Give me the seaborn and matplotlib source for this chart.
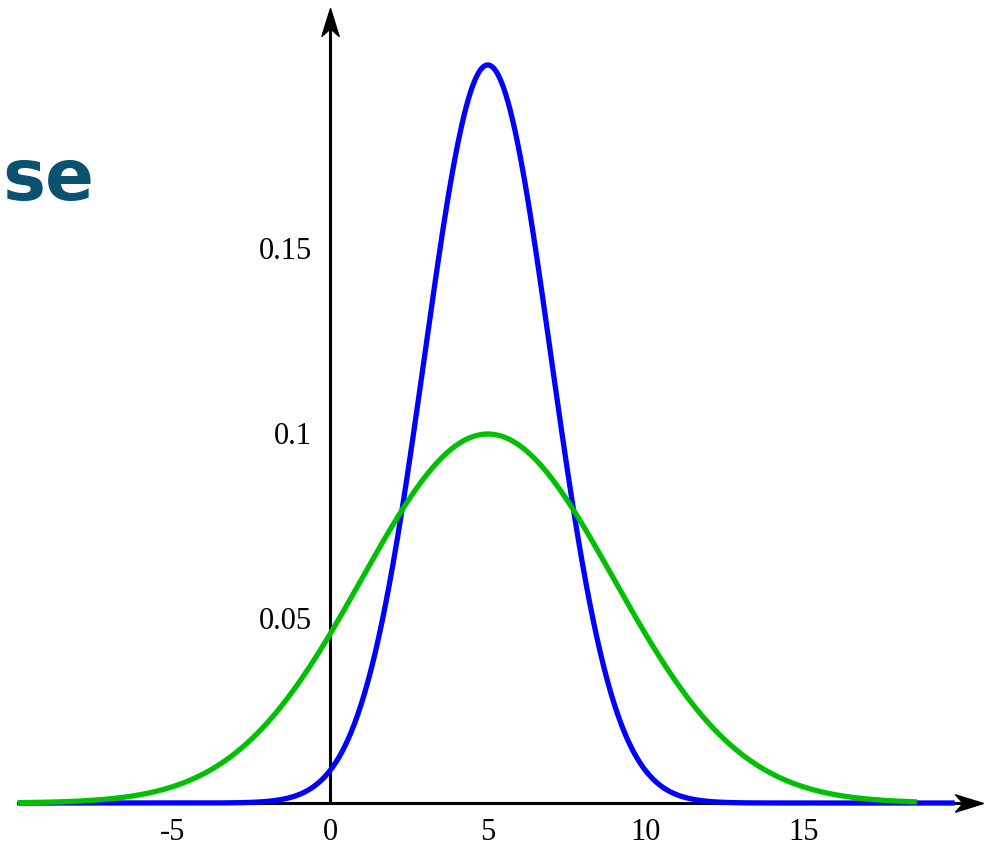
import numpy as np
import pandas as pd
import seaborn as sns
from matplotlib import pyplot as plt

# two normal densities, same mean, different spread
curve_names = ["narrow", "wide"]
curve_means = [5, 5]
curve_sds = [2, 4]
curve_x_start = [-9.9, -9.9]
curve_x_end = [19.8, 18.6]
curve_colors = ["#0000FF", "#00C000"]

x_ticks = [-5, 0, 5, 10, 15]
x_tick_labels = ["-5", "0", "5", "10", "15"]
y_ticks = [0.05, 0.1, 0.15]
y_tick_labels = ["0.05", "0.1", "0.15"]

sns.set_style("white")
plt.rcParams["font.family"] = ["Liberation Serif", "DejaVu Serif"]

fig = plt.figure(figsize=(9.85, 8.47), dpi=100)
ax = fig.add_axes([0, 0, 1, 1])

frames = []
for name, mu, sd, x0, x1 in zip(curve_names, curve_means, curve_sds, curve_x_start, curve_x_end):
    x = np.linspace(x0, x1, 800)
    y = np.exp(-0.5 * ((x - mu) / sd) ** 2) / (sd * np.sqrt(2 * np.pi))
    frames.append(pd.DataFrame({"x": x, "y": y, "curve": name}))
df = pd.concat(frames, ignore_index=True)

for name, c in zip(curve_names, curve_colors):
    sns.lineplot(data=df[df.curve == name], x="x", y="y", ax=ax, color=c,
                 lw=3.8, sort=False, solid_capstyle="butt")

ax.set_xlim(-10.46, 20.76)
ax.set_ylim(-0.01189, 0.21703)
ax.set_xlabel("")
ax.set_ylabel("")

# axes through the origin
for s in ["top", "right"]:
    ax.spines[s].set_visible(False)
ax.spines["left"].set_position(("data", 0))
ax.spines["bottom"].set_position(("data", 0))
ax.spines["left"].set_bounds(0, 0.210)
ax.spines["bottom"].set_bounds(-9.9, 20.3)
for s in ["left", "bottom"]:
    ax.spines[s].set_linewidth(2.2)
    ax.spines[s].set_color("black")
    ax.spines[s].set_zorder(1)

ax.set_xticks(x_ticks)
ax.set_xticklabels(x_tick_labels)
ax.set_yticks(y_ticks)
ax.set_yticklabels(y_tick_labels)
ax.tick_params(direction="out", length=7, width=2.2, labelsize=22, pad=6,
               colors="black", labelcolor="black")
ax.tick_params(axis="x", pad=4)

# arrow heads
head = [(1, 0), (-1, 0.62), (-0.45, 0), (-1, -0.62), (1, 0)]
head_up = [(-py, px) for px, py in head]
ax.plot(20.7 - 0.44, 0, marker=head, ms=20, color="black", clip_on=False, zorder=5)
ax.plot(0, 0.2149 - 14 / 3700, marker=head_up, ms=20, color="black", clip_on=False, zorder=5)

fig.text(2 / 985, 1 - 200 / 847, "se", fontsize=52, fontweight="bold",
         color="#0B5170", family="DejaVu Sans", va="baseline")

fig.savefig("out.png", dpi=100)
